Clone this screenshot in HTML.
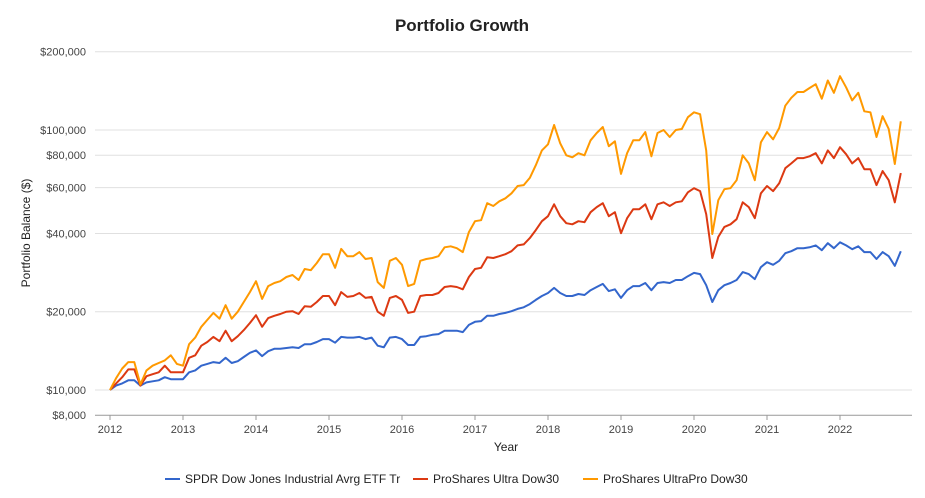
<!DOCTYPE html>
<html><head><meta charset="utf-8"><style>
body{margin:0;background:#fff;font-family:"Liberation Sans",Arial,sans-serif}
svg{display:block}
</style></head><body>
<svg id="chart" width="925" height="498">
<text x="462" y="31" text-anchor="middle" font-size="17" font-weight="bold" fill="#222">Portfolio Growth</text>
<text transform="translate(30,233) rotate(-90)" text-anchor="middle" font-size="12" fill="#222">Portfolio Balance ($)</text>
<text x="506" y="451" text-anchor="middle" font-size="12" fill="#222">Year</text>
<g id="grid"></g><g id="series"></g><g id="legend"></g>
</svg>
<script>
const yTicks=[8000,10000,20000,40000,60000,80000,100000,200000];
const yTickLabels=["$8,000","$10,000","$20,000","$40,000","$60,000","$80,000","$100,000","$200,000"];
const xYears=[2012,2013,2014,2015,2016,2017,2018,2019,2020,2021,2022];
const seriesNames=["SPDR Dow Jones Industrial Avrg ETF Tr","ProShares Ultra Dow30","ProShares UltraPro Dow30"];
const spdr=[10,10.4,10.6,10.9,10.9,10.4,10.7,10.8,10.9,11.2,11.0,11.0,11.0,11.7,11.9,12.4,12.6,12.8,12.7,13.3,12.7,12.9,13.4,13.9,14.2,13.5,14.1,14.4,14.4,14.5,14.6,14.5,15.0,15.0,15.3,15.7,15.7,15.2,16.0,15.9,15.9,16.0,15.7,15.9,14.8,14.6,15.9,16.0,15.7,14.9,14.9,16.0,16.1,16.3,16.4,16.9,16.9,16.9,16.7,17.8,18.3,18.4,19.3,19.3,19.6,19.8,20.1,20.5,20.8,21.4,22.2,23.0,23.6,24.7,23.6,23.0,23.0,23.4,23.2,24.2,24.9,25.6,24.0,24.4,22.6,24.2,25.1,25.1,25.8,24.2,25.8,26.0,25.8,26.5,26.5,27.4,28.2,27.9,25.3,21.8,24.2,25.3,25.8,26.5,28.4,27.9,26.7,29.7,31.0,30.3,31.4,33.6,34.2,35.1,35.1,35.4,36.0,34.5,36.7,35.1,37.0,36.0,34.8,35.7,33.9,33.9,31.9,33.9,32.7,30.0,34.2];
const ultra=[10,10.6,11.2,12.0,12.0,10.4,11.3,11.5,11.7,12.4,11.7,11.7,11.7,13.3,13.6,14.8,15.3,16.0,15.4,16.9,15.4,16.1,17.0,18.1,19.4,17.5,18.9,19.3,19.6,20.0,20.1,19.6,21.0,20.9,21.8,23.0,23.0,21.2,23.8,22.8,23.0,23.6,22.6,22.8,20.0,19.3,22.6,23.0,22.2,19.8,20.0,23.0,23.2,23.2,23.6,24.9,25.1,24.9,24.4,27.2,29.2,29.5,32.4,32.2,32.7,33.3,34.2,36.0,36.3,38.4,41.2,44.6,46.6,51.8,46.6,43.8,43.4,44.6,44.2,48.3,50.5,52.3,46.6,48.3,40.1,45.8,49.6,49.6,51.8,45.4,51.8,52.7,51.0,52.7,53.2,57.6,59.7,58.2,47.5,32.2,38.8,42.4,43.4,45.4,52.7,50.5,45.8,57.1,60.9,58.2,62.4,71.3,74.4,78.0,78.0,79.2,81.4,74.4,83.5,78.0,85.9,80.7,74.4,78.0,70.7,70.7,61.4,69.5,64.1,52.7,68.3];
const ultraPro=[10,11.1,12.1,12.8,12.8,10.5,11.9,12.4,12.7,13.0,13.6,12.6,12.4,15.0,15.9,17.5,18.6,19.8,18.8,21.2,18.8,20.0,21.8,23.8,26.2,22.4,25.1,25.8,26.2,27.2,27.7,26.5,29.2,28.9,30.8,33.3,33.3,29.5,34.9,32.7,32.7,33.9,31.9,32.2,26.0,24.7,31.4,32.2,30.3,25.1,25.6,31.4,31.9,32.2,32.7,35.4,35.7,35.1,33.9,40.5,44.6,45.0,52.3,51.0,53.2,54.6,57.1,60.9,61.4,65.4,73.2,83.5,88.1,104.5,88.9,79.9,78.5,81.4,79.9,91.3,97.4,102.7,86.6,90.5,67.8,81.4,91.3,91.3,98.2,79.2,97.4,100,94.0,100,100.9,112,117,115,83.5,39.8,53.7,59.2,59.7,64.1,79.9,74.4,64.1,89.7,98.2,92.1,101.8,124,133,140,140,145,150,132,155,139,161,146,130,139,118,117,94.0,113,101,74,108];
const colors=["#3366cc","#dc3912","#ff9900"];
const NS="http://www.w3.org/2000/svg";
const yScale=v=>390-260*Math.log10(v/10000);
const xScale=m=>110+m*730/120;
function mk(tag,attrs,parent){const e=document.createElementNS(NS,tag);for(const k in attrs)e.setAttribute(k,attrs[k]);parent.appendChild(e);return e;}
const grid=document.getElementById('grid');
yTicks.forEach((t,i)=>{const y=yScale(t);
 const l=mk('line',{x1:95,x2:912,y1:y,y2:y,stroke:i===0?'#999':'#e0e0e0','stroke-width':1},grid);
 
 
 const tx=mk('text',{x:86,y:y+4,'text-anchor':'end','font-size':11,fill:'#444'},grid);tx.textContent=yTickLabels[i];
 
 
});
xYears.forEach(yr=>{const x=xScale((yr-2012)*12);
 const tk=mk('line',{x1:x,x2:x,y1:415,y2:420,stroke:'#999'},grid);
 
 
 const tx=mk('text',{x:x,y:433,'text-anchor':'middle','font-size':11,fill:'#444'},grid);tx.textContent=yr;
 
 
});
const sg=document.getElementById('series');
[spdr,ultra,ultraPro].forEach((arr,si)=>{
 const pts=arr.map((v,i)=>xScale(i).toFixed(1)+','+yScale(v*1000).toFixed(1)).join(' ');
 const p=mk('polyline',{points:pts,fill:'none',stroke:colors[si],'stroke-width':2,'stroke-linejoin':'round'},sg);
 
 
});
const lg=document.getElementById('legend');
const lx=[165,413,583];
seriesNames.forEach((n,i)=>{
 const l=mk('line',{x1:lx[i],x2:lx[i]+15,y1:479,y2:479,stroke:colors[i],'stroke-width':2},lg);
 
 
 const t=mk('text',{x:lx[i]+20,y:483,'font-size':12,fill:'#222'},lg);t.textContent=n;
 
 
});
</script>
</body></html>
